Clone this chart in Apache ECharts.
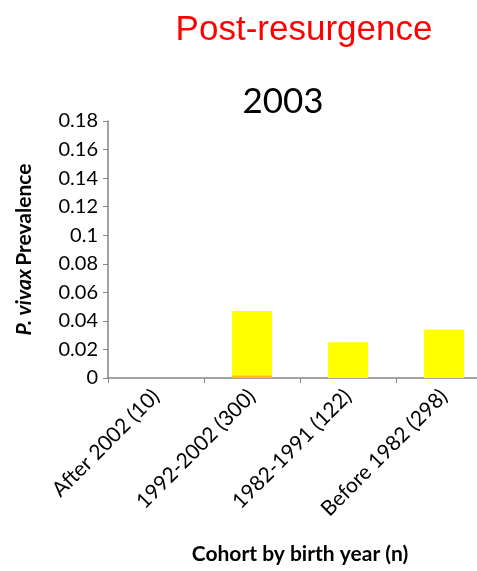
<!DOCTYPE html>
<html>
<head>
<meta charset="utf-8">
<script src="https://cdn.jsdelivr.net/npm/echarts@6/dist/echarts.min.js"></script>
<style>
  html, body { margin: 0; padding: 0; background: #fff; }
  #chart { width: 477px; height: 571px; }
</style>
</head>
<body>
<div id="chart"></div>
<script>
var categories = ['After 2002 (10)', '1992-2002 (300)', '1982-1991 (122)', 'Before 1982 (298)'];
var orangePart = [0, 0.002, 0, 0];
var yellowPart = [0, 0.045, 0.025, 0.034];
var yTicks = { min: 0, max: 0.18, interval: 0.02 };

var myChart = echarts.init(document.getElementById('chart'));
var option = {
    animation: false,
    textStyle: { fontFamily: 'Lato' },
    title: [
        {
            text: 'Post-resurgence',
            left: 299, top: 8, textAlign: 'center',
            textStyle: { color: '#ff0000', fontSize: 35, fontWeight: 'normal', fontFamily: 'Liberation Sans' }
        },
        {
            text: '2003',
            left: 278, top: 79, textAlign: 'center',
            textStyle: { color: '#000', fontSize: 35, fontWeight: 'normal', fontFamily: 'Lato' }
        }
    ],
    grid: { left: 108, top: 121, height: 257, width: 384, outerBoundsMode: 'none', containLabel: false },
    xAxis: {
        type: 'category',
        data: categories,
        axisLine: { lineStyle: { color: '#868686', width: 1.5 } },
        axisTick: { show: true, length: 5, lineStyle: { color: '#868686' } },
        axisLabel: { rotate: 45, color: '#000', fontSize: 21, fontFamily: 'Lato', margin: 15 },
        name: 'Cohort by birth year (n)',
        nameLocation: 'middle',
        nameGap: 166,
        nameTextStyle: { color: '#000', fontSize: 21, fontWeight: 'bold', fontFamily: 'Lato' }
    },
    yAxis: {
        type: 'value',
        min: yTicks.min, max: yTicks.max, interval: yTicks.interval,
        splitLine: { show: false },
        axisLine: { show: true, lineStyle: { color: '#868686', width: 1.5 } },
        axisTick: { show: true, length: 5, lineStyle: { color: '#868686' } },
        axisLabel: { color: '#000', fontSize: 20, fontFamily: 'Lato', margin: 10 },
        name: '{i|P. vivax} {b|Prevalence}',
        nameLocation: 'middle',
        nameGap: 73,
        nameTextStyle: {
            rich: {
                i: { fontSize: 21, fontWeight: 'bold', fontStyle: 'italic', fontFamily: 'Lato', color: '#000' },
                b: { fontSize: 21, fontWeight: 'bold', fontFamily: 'Lato', color: '#000' }
            }
        }
    },
    series: [
        {
            name: 'orange', type: 'bar', stack: 'all',
            data: orangePart, barWidth: 40,
            itemStyle: { color: '#ffc000' }
        },
        {
            name: 'yellow', type: 'bar', stack: 'all',
            data: yellowPart, barWidth: 40,
            itemStyle: { color: '#ffff00' }
        }
    ]
};
myChart.setOption(option);
</script>
</body>
</html>
